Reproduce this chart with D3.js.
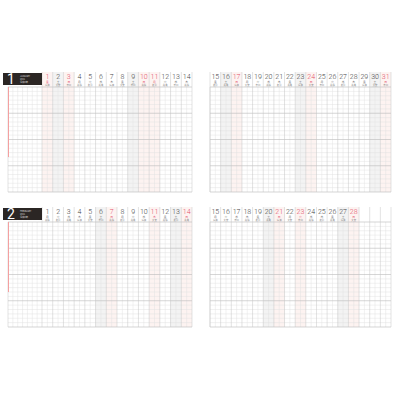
<!DOCTYPE html><html><head><meta charset="utf-8"><script src="https://cdn.jsdelivr.net/npm/d3@7"></script>
<style>body{margin:0;background:#fff}</style></head><body><svg id="c" width="400" height="400"></svg>
<script>
const months=["1","2"];
const monthNames=["JANUARY","FEBRUARY"];
const janDays=d3.range(1,32), febDays=d3.range(1,29);
const janWeek=["金","土","日","月","火","水","木","金","土","日","月","火","水","木","金","土","日","月","火","水","木","金","土","日","月","火","水","木","金","土","日"];
const febWeek=["月","火","水","木","金","土","日","月","火","水","木","金","土","日","月","火","水","木","金","土","日","月","火","水","木","金","土","日"];
const janRoku=["仏滅","大安","赤口","先勝","友引","先負","仏滅","大安","赤口","先勝","友引","先負","赤口","先勝","友引","先負","仏滅","大安","赤口","先勝","友引","先負","仏滅","大安","赤口","先勝","友引","先負","仏滅","大安","赤口"];
const febRoku=["先勝","友引","先負","仏滅","大安","赤口","先勝","友引","先負","仏滅","大安","先勝","友引","先負","仏滅","大安","赤口","先勝","友引","先負","仏滅","大安","赤口","先勝","友引","先負","仏滅","大安"];
const janHoliday=[1,3,10,11,17,24,31], febHoliday=[7,11,14,21,23,28];
const janSat=[2,9,16,23,30], febSat=[6,13,20,27];
const svg=d3.select("#c");
const blocks=[
 {m:0,days:janDays,week:janWeek,roku:janRoku,hol:janHoliday,sat:janSat,top:72},
 {m:1,days:febDays,week:febWeek,roku:febRoku,hol:febHoliday,sat:febSat,top:207}];
const hdrH=15, gridH=105;
blocks.forEach(b=>{
 const pages=[{x0:42,x1:192,cols:d3.range(1,15),label:true,left:8},{x0:210,x1:391,cols:d3.range(15,32),label:false,left:210}];
 pages.forEach(p=>{
  const x=d3.scaleBand().domain(p.cols).range([p.x0,p.x1]);
  const g=svg.append("g");
  const gy=b.top+hdrH, gb=gy+gridH;
  const y=d3.scaleLinear().domain([0,24]).range([gy,gb]);
  p.cols.forEach(d=>{
   if(d>b.days.length) return;
   let fill=null;
   if(b.hol.includes(d)) fill="#fdf3f1"; else if(b.sat.includes(d)) fill="#f3f3f3";
   if(fill) g.append("rect").attr("x",x(d)).attr("y",b.top).attr("width",x.bandwidth()).attr("height",hdrH+gridH).attr("fill",fill);
  });
  d3.range(1,24).forEach(i=>{ if(i%6) g.append("line").attr("x1",p.left).attr("x2",p.x1).attr("y1",y(i)).attr("y2",y(i)).attr("stroke","#e2e2e2").attr("stroke-width",0.5);});
  p.cols.forEach(d=>g.append("line").attr("x1",x(d)+x.bandwidth()/2).attr("x2",x(d)+x.bandwidth()/2).attr("y1",gy).attr("y2",gb).attr("stroke","#e2e2e2").attr("stroke-width",0.5));
  if(p.label){ d3.range(1,7).forEach(i=>{const xx=8+i*34/7; g.append("line").attr("x1",xx).attr("x2",xx).attr("y1",gy).attr("y2",gb).attr("stroke","#e2e2e2").attr("stroke-width",0.5);});}
  [0,6,12,18,24].forEach(i=>g.append("line").attr("x1",p.left).attr("x2",p.x1).attr("y1",y(i)).attr("y2",y(i)).attr("stroke","#bbb").attr("stroke-width",0.6));
  p.cols.concat([null]).forEach(d=>{const xx=d==null?p.x1:x(d); g.append("line").attr("x1",xx).attr("x2",xx).attr("y1",b.top).attr("y2",gb).attr("stroke","#c4c4c4").attr("stroke-width",0.5);});
  g.append("line").attr("x1",p.left).attr("x2",p.left).attr("y1",gy).attr("y2",gb).attr("stroke","#c4c4c4").attr("stroke-width",0.5);
  p.cols.forEach(d=>{
   if(d>b.days.length) return;
   const red=b.hol.includes(d);
   const cx=x(d)+x.bandwidth()/2;
   g.append("text").attr("x",cx).attr("y",b.top+6.5).attr("text-anchor","middle").attr("font-family","Roboto,sans-serif").attr("font-weight",300).attr("font-size",7).attr("fill",red?"#e2506a":"#444").text(d);
   g.append("text").attr("x",cx).attr("y",b.top+10.6).attr("text-anchor","middle").attr("font-family","Noto Sans CJK JP").attr("font-size",2.8).attr("fill",red?"#e2506a":"#666").text(b.week[d-1]);
   g.append("text").attr("x",cx).attr("y",b.top+14).attr("text-anchor","middle").attr("font-family","Noto Sans CJK JP").attr("font-size",2.4).attr("fill","#888").text(b.roku[d-1]);
  });
  if(p.label){
   g.append("rect").attr("x",3).attr("y",b.top+1).attr("width",39).attr("height",12).attr("fill","#2b2624");
   g.append("text").attr("x",7).attr("y",b.top+12).attr("font-family","Roboto,sans-serif").attr("font-size",14).attr("fill","#fff").text(months[b.m]);
   [monthNames[b.m],"2021","令和3年"].forEach((t,i)=>g.append("text").attr("x",20).attr("y",b.top+4.8+i*3.2).attr("font-family","Noto Sans CJK JP").attr("font-size",2.3).attr("fill","#ddd").text(t));
   g.append("line").attr("x1",8.5).attr("x2",8.5).attr("y1",gy).attr("y2",y(16)).attr("stroke","#f4a0a0").attr("stroke-width",1);
  }
 });
});
</script></body></html>
